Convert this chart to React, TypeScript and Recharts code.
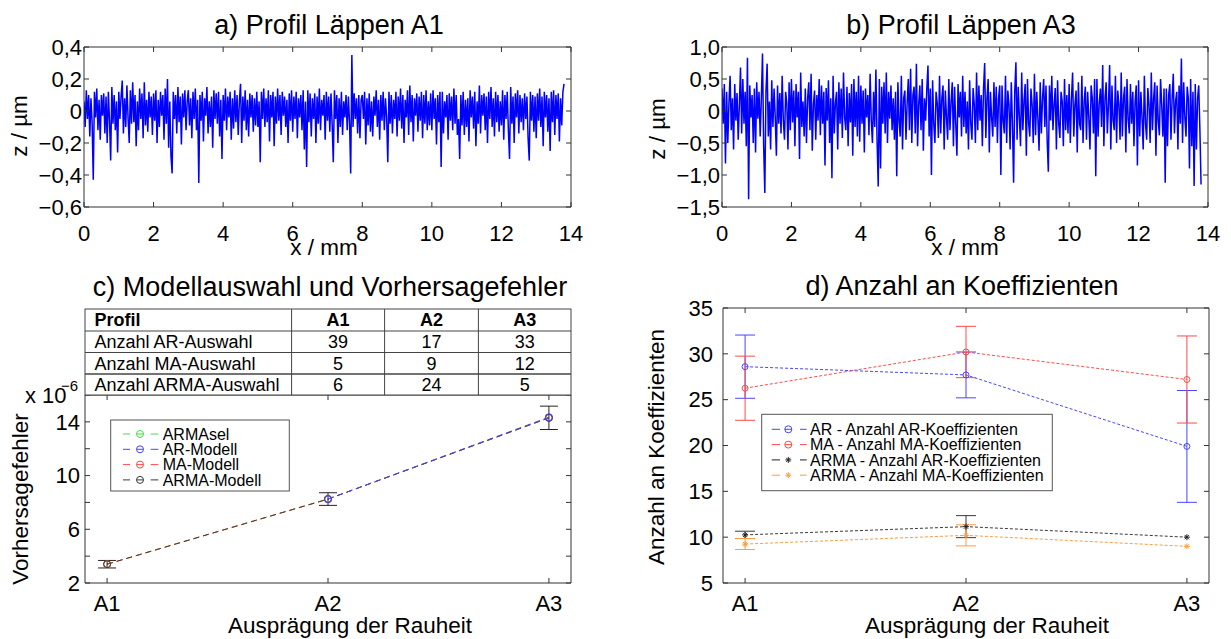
import { LineChart, Line, XAxis, YAxis, ErrorBar } from 'recharts'

const FONT = '"Liberation Sans", Arial, Helvetica, sans-serif'
const AXIS = '#333333'

// surface profiles, 30 samples per mm (one row per mm)
const samplesPerMm = 30
const profileA1 = [
  0.06, -0.1, 0.13, -0.05, 0.1, -0.16, 0.08, -0.07, -0.43, 0.12, -0.04, 0.14, -0.12, 0.07, -0.18, 0.1, -0.03, 0.11, -0.14, 0.09, -0.2, 0.12, -0.06, -0.31, 0.15, -0.08, 0.1, -0.12, 0.06, -0.26,
  0.12, -0.05, 0.09, 0.19, -0.14, 0.08, -0.1, 0.16, -0.04, -0.2, 0.13, -0.08, 0.18, -0.07, 0.1, -0.22, 0.06, -0.12, 0.14, -0.05, 0.11, -0.17, 0.18, -0.09, 0.07, -0.13, 0.12, -0.04, 0.09, -0.15,
  0.11, -0.06, 0.13, -0.2, 0.07, -0.1, 0.12, -0.03, 0.1, -0.18, 0.14, -0.08, 0.2, -0.23, 0.06, -0.28, -0.39, 0.12, -0.05, 0.1, -0.14, 0.15, -0.07, 0.09, -0.21, 0.11, -0.04, 0.13, -0.12, 0.06,
  0.13, -0.09, 0.08, -0.17, 0.12, -0.05, 0.14, -0.12, 0.07, -0.45, 0.1, -0.06, 0.12, -0.19, 0.08, -0.03, 0.15, -0.14, 0.06, -0.1, 0.09, -0.23, 0.13, -0.05, 0.11, -0.08, 0.12, -0.16, 0.07, -0.3,
  0.1, -0.06, 0.14, -0.12, 0.09, -0.04, 0.12, -0.18, 0.08, -0.11, 0.13, -0.07, 0.1, -0.15, 0.06, 0.17, -0.2, 0.09, -0.06, 0.13, -0.12, 0.07, -0.16, 0.11, -0.04, 0.1, -0.13, 0.08, -0.09, 0.12,
  -0.1, 0.06, -0.32, 0.12, -0.05, 0.14, -0.1, 0.08, -0.07, 0.13, -0.19, 0.1, -0.04, 0.12, -0.22, 0.09, -0.08, 0.14, -0.06, 0.1, -0.15, 0.12, -0.03, 0.09, -0.1, 0.07, -0.2, 0.11, -0.06, 0.13,
  -0.13, 0.09, -0.05, 0.12, -0.17, 0.08, -0.04, 0.1, -0.12, 0.13, -0.24, 0.06, -0.35, 0.13, -0.07, 0.11, -0.16, 0.08, -0.05, 0.11, -0.2, 0.09, -0.08, 0.14, -0.12, 0.07, -0.03, 0.1, -0.18, 0.12,
  -0.06, 0.09, -0.13, 0.11, -0.08, -0.32, 0.13, -0.05, 0.1, -0.2, 0.08, -0.1, 0.12, -0.15, 0.06, -0.04, 0.1, -0.12, 0.09, -0.07, -0.39, 0.35, -0.1, 0.11, -0.05, 0.08, -0.14, 0.1, -0.17, 0.07,
  0.1, -0.05, 0.12, -0.21, 0.08, -0.09, 0.11, -0.13, 0.06, -0.16, 0.09, -0.03, 0.13, -0.1, 0.07, -0.18, 0.1, -0.06, 0.12, -0.12, 0.08, -0.04, -0.32, 0.12, -0.08, 0.1, -0.14, 0.07, -0.05, 0.12,
  -0.16, 0.09, -0.06, 0.14, -0.11, 0.1, -0.2, 0.07, -0.04, 0.13, -0.15, 0.16, -0.07, 0.1, -0.19, 0.08, -0.03, 0.11, -0.13, 0.09, -0.06, 0.12, -0.17, 0.1, -0.08, 0.13, -0.12, 0.06, -0.09, 0.11,
  -0.12, 0.13, -0.05, 0.08, -0.21, 0.1, -0.07, 0.12, -0.35, 0.12, -0.14, 0.06, -0.04, 0.1, -0.18, 0.11, -0.06, 0.09, -0.12, 0.14, -0.08, 0.1, -0.15, -0.05, -0.3, 0.1, -0.09, 0.12, -0.15, 0.07,
  -0.1, 0.08, -0.19, 0.13, -0.04, 0.09, -0.11, 0.12, -0.22, 0.06, -0.08, 0.16, -0.14, 0.1, -0.03, 0.11, -0.12, 0.09, -0.2, 0.12, -0.05, 0.15, -0.1, 0.08, -0.16, 0.12, -0.07, 0.1, -0.13, 0.06,
  -0.09, 0.13, -0.18, 0.1, -0.05, 0.12, -0.12, -0.3, 0.15, -0.08, 0.09, -0.2, 0.11, -0.04, 0.13, -0.14, 0.1, -0.07, 0.08, -0.12, 0.11, -0.05, 0.09, -0.17, -0.31, 0.12, -0.06, 0.1, -0.13, 0.09,
  -0.17, 0.11, -0.06, 0.14, -0.1, 0.09, -0.22, 0.12, -0.04, 0.1, -0.13, 0.08, -0.25, 0.12, -0.07, 0.13, -0.15, 0.1, -0.05, 0.11, -0.19, 0.08, -0.09, 0.12, 0.17,
]
const profileA3 = [
  0.35, -0.2, 0.42, -0.82, 0.3, -0.5, 0.12, 0.55, -0.3, 0.2, -0.6, 0.42, -0.15, 0.28, -0.45, 0.1, 0.68, -0.35, 0.5, -0.2, 0.3, -0.55, 0.83, -1.38, 0.4, -0.1, 0.25, -0.5, 0.35, -0.65,
  0.45, -0.12, 0.3, -0.4, 0.2, 0.9, -0.55, -1.28, 0.3, 0.74, -0.4, 0.15, -0.6, 0.48, -0.25, 0.35, -0.1, -0.7, 0.4, -0.2, 0.28, -0.35, 0.55, -0.15, -0.45, 0.3, 0.12, -0.6, 0.45, -0.3,
  0.5, -0.18, 0.32, -0.55, 0.42, -0.1, 0.3, -0.75, 0.6, -0.25, 0.15, -0.4, 0.35, -0.5, 0.2, 0.45, -0.3, 0.58, -0.62, 0.1, 0.32, -0.45, 0.25, -0.15, 0.5, -0.38, 0.4, -0.2, 0.3, -0.85,
  0.36, -0.15, 0.48, -0.5, 0.2, -1.05, 0.55, -0.35, 0.12, 0.3, -0.6, 0.45, -0.2, 0.35, -0.42, 0.6, -0.1, -0.3, 0.38, -0.55, 0.28, -0.18, 0.42, -0.7, 0.5, -0.25, 0.3, -0.4, 0.55, -0.48,
  0.4, -0.2, 0.32, -0.65, 0.35, -0.1, 0.25, -0.38, 0.58, -0.15, -0.5, 0.3, -0.25, 0.65, -0.45, -1.18, 0.5, -0.9, 0.38, -0.2, 0.45, -0.35, 0.6, -0.5, 0.3, -0.12, 0.4, -0.3, 0.2, -0.45,
  0.3, -1.02, 0.45, -0.15, -0.4, 0.55, -0.6, 0.2, 0.32, -0.45, 0.12, 0.5, -0.3, 0.66, -0.5, 0.25, 0.38, -0.35, 0.74, -0.55, 0.1, 0.4, -0.3, 0.5, -0.62, 0.2, -0.15, 0.35, 0.71, -0.4,
  0.35, -1.0, 0.48, -0.2, -0.5, 0.3, 0.12, -0.42, 0.55, -0.35, 0.2, 0.4, -0.6, 0.32, -0.1, -0.45, 0.5, -0.3, 0.15, 0.45, -0.55, 0.38, -0.2, -0.7, 0.42, -0.1, 0.3, -0.4, 0.55, -0.25,
  0.3, -0.35, 0.15, -0.6, 0.48, -0.2, -0.45, 0.36, 0.1, -0.5, 0.6, -0.3, 0.4, -0.15, 0.25, -0.55, 0.35, 0.75, -0.42, 0.2, 0.5, -0.65, 0.3, -0.1, -0.4, 0.45, -0.25, 0.38, -0.5, 0.2,
  0.4, -1.0, 0.4, -0.15, -0.35, 0.55, -0.5, 0.32, 0.1, -0.6, 0.45, -0.2, -1.12, 0.3, 0.76, -0.45, 0.38, -0.1, -0.55, 0.6, -0.3, 0.15, 0.42, -0.7, 0.5, -0.2, -0.4, 0.35, 0.1, -0.5,
  0.58, -0.38, 0.3, -0.12, -0.62, 0.45, -0.35, 0.2, 0.5, -0.25, 0.4, -0.45, -0.95, 0.4, -0.15, 0.55, -0.3, 0.1, 0.36, -0.6, 0.48, -0.2, -0.42, 0.3, 0.15, -0.55, 0.5, -0.3, 0.25, -0.35,
  0.42, -0.5, 0.2, 0.6, -0.4, 0.1, 0.32, -0.65, 0.45, -0.2, -0.3, 0.55, -0.5, 0.15, 0.38, -0.45, 0.3, -0.1, -0.6, 0.4, 0.2, -0.35, 0.5, -1.02, 0.5, -0.4, 0.12, 0.35, -0.25, 0.72,
  -0.55, 0.2, 0.45, -0.35, 0.1, 0.72, -0.6, 0.4, -0.15, -0.3, 0.55, -0.5, 0.32, 0.1, -0.45, 0.6, -0.4, 0.2, 0.38, -0.65, 0.5, -0.12, -0.35, 0.42, -0.2, 0.3, -0.55, 0.15, 0.4, -0.85,
  0.48, -0.4, 0.3, -0.1, -0.6, 0.55, -0.2, -0.45, 0.36, 0.1, -0.5, 0.6, -0.3, 0.2, 0.45, -0.7, 0.4, -0.15, -0.38, 0.5, 0.1, -0.4, 0.35, -1.12, 0.35, -0.55, 0.25, 0.42, -0.45, 0.2,
  0.58, -0.35, 0.15, 0.3, -0.6, 0.4, -0.2, 0.82, -0.5, 0.45, -0.1, -0.4, 0.38, 0.2, -0.9, 0.5, -0.55, 0.3, -1.17, 0.42, -0.6, 0.2, 0.4, -0.3, -1.15,
]

const mmTicks = [0, 2, 4, 6, 8, 10, 12, 14]
const zTicksA1 = [-0.6, -0.4, -0.2, 0, 0.2, 0.4]
const zTicksA3 = [-1.5, -1, -0.5, 0, 0.5, 1]

const categories = ['A1', 'A2', 'A3']
const categoryX = [1, 2, 3]

// table of panel c
const tableHeader = ['Profil', 'A1', 'A2', 'A3']
const tableLabels = ['Anzahl AR-Auswahl', 'Anzahl MA-Auswahl', 'Anzahl ARMA-Auswahl']
const countAR = [39, 17, 33]
const countMA = [5, 9, 12]
const countARMA = [6, 24, 5]

// panel c: prediction error, x 1e-6
const errArmasel = [3.4, 8.25, 14.3]
const errAR: (number | null)[] = [null, 8.25, 14.35]
const errMA = [3.4, 8.25, 14.3]
const errARMA = [3.4, 8.25, 14.3]
const errARMAStd = [0.28, 0.47, 0.87]
const errTicks = [2, 4, 6, 8, 10, 12, 14, 16]
const errTickLabels = [2, 6, 10, 14]

// panel d: number of coefficients
const coefAR = [28.6, 27.7, 19.9]
const coefARStd = [3.45, 2.5, 6.1]
const coefMA = [26.25, 30.2, 27.2]
const coefMAStd = [3.5, 2.8, 4.75]
const coefArmaAR = [10.25, 11.15, 10.0]
const coefArmaARStd = [0.4, 1.2, 0]
const coefArmaMA = [9.25, 10.2, 9.0]
const coefArmaMAStd = [0.6, 1.15, 0]
const coefTicks = [5, 10, 15, 20, 25, 30, 35]

const C_GREEN = '#44dd44'
const C_BLUE = '#4646ff'
const C_RED = '#ff4a4a'
const C_DARK = '#3a3a3a'
const C_ORANGE = '#ff9c3c'

const legendC = [
  { label: 'ARMAsel', color: C_GREEN },
  { label: 'AR-Modell', color: C_BLUE },
  { label: 'MA-Modell', color: C_RED },
  { label: 'ARMA-Modell', color: C_DARK },
]
const legendD = [
  { label: 'AR - Anzahl AR-Koeffizienten', color: C_BLUE, star: false },
  { label: 'MA - Anzahl MA-Koeffizienten', color: C_RED, star: false },
  { label: 'ARMA - Anzahl AR-Koeffizienten', color: '#222222', star: true },
  { label: 'ARMA - Anzahl MA-Koeffizienten', color: C_ORANGE, star: true },
]

const toProfile = (vals: number[]) => vals.map((z, i) => ({ x: i / samplesPerMm, z }))
const dataA1 = toProfile(profileA1)
const dataA3 = toProfile(profileA3)
const dataC = categoryX.map((x, i) => ({
  x,
  armasel: errArmasel[i],
  ar: errAR[i],
  ma: errMA[i],
  arma: errARMA[i],
  armaStd: errARMAStd[i],
}))
const dataD = categoryX.map((x, i) => ({
  x,
  ar: coefAR[i],
  arStd: coefARStd[i],
  ma: coefMA[i],
  maStd: coefMAStd[i],
  armaAr: coefArmaAR[i],
  armaArStd: coefArmaARStd[i],
  armaMa: coefArmaMA[i],
  armaMaStd: coefArmaMAStd[i],
}))

const deNum = (v: number) =>
  v === 0 ? '0' : (v < 0 ? '\u2212' : '') + Math.abs(v).toFixed(1).replace('.', ',')
const catName = (v: number) => categories[Math.round(v) - 1] ?? ''
const blank = () => ''

const tickFont = { fill: '#000', fontSize: 22, fontFamily: FONT }

// MATLAB-like box: labelled bottom/left axes, bare top/right axes, ticks pointing inward
function boxAxes(
  xDomain: [number, number],
  xTicks: number[],
  xFmt: (v: number) => string,
  xGap: number,
  yDomain: [number, number],
  yTicks: number[],
  yFmt: (v: number) => string,
  yGap: number,
) {
  return [
    <XAxis key="xb" type="number" dataKey="x" domain={xDomain} ticks={xTicks} tickFormatter={xFmt}
      interval={0} allowDataOverflow height={30} tickSize={-5} tickMargin={xGap} stroke={AXIS} tick={tickFont} />,
    <XAxis key="xt" xAxisId="top" orientation="top" type="number" dataKey="x" domain={xDomain} ticks={xTicks}
      tickFormatter={blank} interval={0} allowDataOverflow height={20} tickSize={-5} stroke={AXIS} />,
    <YAxis key="yl" type="number" domain={yDomain} ticks={yTicks} tickFormatter={yFmt}
      interval={0} allowDataOverflow width={60} tickSize={-5} tickMargin={yGap} stroke={AXIS} tick={tickFont} />,
    <YAxis key="yr" yAxisId="right" orientation="right" type="number" domain={yDomain} ticks={yTicks}
      tickFormatter={blank} interval={0} allowDataOverflow width={20} tickSize={-5} stroke={AXIS} />,
  ]
}

function Star({ cx, cy, color, s = 3.5 }: { cx: number; cy: number; color: string; s?: number }) {
  const d = s * 0.7
  return (
    <g stroke={color} strokeWidth={1}>
      <line x1={cx - s} y1={cy} x2={cx + s} y2={cy} />
      <line x1={cx} y1={cy - s} x2={cx} y2={cy + s} />
      <line x1={cx - d} y1={cy - d} x2={cx + d} y2={cy + d} />
      <line x1={cx - d} y1={cy + d} x2={cx + d} y2={cy - d} />
    </g>
  )
}

function circleDot(color: string, r = 3.5) {
  return (p: any) =>
    p.cx == null || p.cy == null ? (
      <g key={p.index} />
    ) : (
      <circle key={p.index} cx={p.cx} cy={p.cy} r={r} fill="none" stroke={color} strokeWidth={1} />
    )
}

function starDot(color: string) {
  return (p: any) =>
    p.cx == null || p.cy == null ? (
      <g key={p.index} />
    ) : (
      <g key={p.index}>
        <Star cx={p.cx} cy={p.cy} color={color} s={3} />
      </g>
    )
}

function Overlay() {
  const rowsY = [309, 331, 352.5, 374, 395]
  const colsX = [85, 291.6, 384.6, 478.4, 571]
  const counts = [countAR, countMA, countARMA]
  const colCenter = (j: number) => (colsX[j] + colsX[j + 1]) / 2
  return (
    <svg width={1231} height={639} style={{ position: 'absolute', left: 0, top: 0, pointerEvents: 'none' }}
      fontFamily={FONT} fill="#000">
      {/* titles */}
      <text x={329} y={34} fontSize={27} textAnchor="middle">a) Profil Läppen A1</text>
      <text x={961} y={34} fontSize={27} textAnchor="middle">b) Profil Läppen A3</text>
      <text x={330} y={296} fontSize={27} textAnchor="middle">c) Modellauswahl und Vorhersagefehler</text>
      <text x={962} y={295} fontSize={27} textAnchor="middle">d) Anzahl an Koeffizienten</text>

      {/* axis labels */}
      <text x={324} y={255} fontSize={22.5} textAnchor="middle">x / mm</text>
      <text x={965} y={255} fontSize={22.5} textAnchor="middle">x / mm</text>
      <text x={350} y={633} fontSize={22.5} textAnchor="middle">Ausprägung der Rauheit</text>
      <text x={987} y={633} fontSize={22.5} textAnchor="middle">Ausprägung der Rauheit</text>
      <text transform="translate(27,126) rotate(-90)" fontSize={22.5} textAnchor="middle">z / µm</text>
      <text transform="translate(665,129) rotate(-90)" fontSize={22.5} textAnchor="middle">z / µm</text>
      <text transform="translate(28,499) rotate(-90)" fontSize={22.5} textAnchor="middle">Vorhersagefehler</text>
      <text transform="translate(664,447) rotate(-90)" fontSize={22.5} textAnchor="middle">Anzahl an Koeffizienten</text>
      <text x={25} y={403} fontSize={22}>x 10</text>
      <text x={61} y={391} fontSize={15}>{'\u2212'}6</text>

      {/* table */}
      <rect x={85} y={309} width={486} height={86} fill="#fff" stroke="#444" strokeWidth={1} />
      {rowsY.slice(1, 4).map((y, i) => (
        <line key={`r${i}`} x1={85} x2={571} y1={y} y2={y} stroke="#444" strokeWidth={i === 2 ? 1.6 : 1} />
      ))}
      {colsX.slice(1, 4).map((x, i) => (
        <line key={`c${i}`} x1={x} x2={x} y1={309} y2={395} stroke="#444" strokeWidth={1} />
      ))}
      {tableHeader.map((h, j) => (
        <text key={`h${j}`} x={j === 0 ? 94.5 : colCenter(j)} y={326.4} fontSize={18} fontWeight="bold"
          textAnchor={j === 0 ? 'start' : 'middle'}>{h}</text>
      ))}
      {tableLabels.map((lab, i) => {
        const base = (rowsY[i + 1] + rowsY[i + 2]) / 2 + 6.4
        return (
          <g key={`t${i}`}>
            <text x={94.5} y={base} fontSize={18}>{lab}</text>
            {counts[i].map((v, j) => (
              <text key={j} x={colCenter(j + 1)} y={base} fontSize={18} textAnchor="middle">{v}</text>
            ))}
          </g>
        )
      })}

      {/* legend c */}
      <rect x={110.7} y={420} width={178.6} height={71} fill="#fff" stroke="#555" strokeWidth={1} />
      {legendC.map((e, i) => {
        const cy = 434 + i * 15.3
        return (
          <g key={e.label}>
            <line x1={123} x2={130} y1={cy} y2={cy} stroke={e.color} strokeWidth={1} />
            <circle cx={140} cy={cy} r={3.5} fill="none" stroke={e.color} strokeWidth={1} />
            <line x1={136.5} x2={143.5} y1={cy} y2={cy} stroke={e.color} strokeWidth={1} />
            <line x1={150.7} x2={158.3} y1={cy} y2={cy} stroke={e.color} strokeWidth={1} />
            <text x={162.7} y={cy + 5.7} fontSize={16}>{e.label}</text>
          </g>
        )
      })}

      {/* legend d */}
      <rect x={761.7} y={414.3} width={290.6} height={76.4} fill="#fff" stroke="#555" strokeWidth={1} />
      {legendD.map((e, i) => {
        const cy = 429.3 + i * 15.3
        return (
          <g key={e.label}>
            <line x1={771.7} x2={780} y1={cy} y2={cy} stroke={e.color} strokeWidth={1} />
            {e.star ? (
              <Star cx={788.3} cy={cy} color={e.color} s={3} />
            ) : (
              <g>
                <circle cx={788.3} cy={cy} r={3.5} fill="none" stroke={e.color} strokeWidth={1} />
                <line x1={784.8} x2={791.8} y1={cy} y2={cy} stroke={e.color} strokeWidth={1} />
              </g>
            )}
            <line x1={800} x2={806.7} y1={cy} y2={cy} stroke={e.color} strokeWidth={1} />
            <text x={810} y={cy + 5.7} fontSize={16}>{e.label}</text>
          </g>
        )
      })}
    </svg>
  )
}

export default function App() {
  return (
    <div style={{ position: 'absolute', left: 0, top: 0, width: 1231, height: 639, background: '#fff', fontFamily: FONT }}>
      <div style={{ position: 'absolute', left: 0, top: 0 }}>
        <LineChart width={600} height={270} data={dataA1} margin={{ top: 27, right: 9, bottom: 33, left: 24 }}>
          {boxAxes([0, 14], mmTicks, (v) => String(v), 23, [-0.6, 0.4], zTicksA1, deNum, 7)}
          <Line type="linear" dataKey="z" stroke="#0000ff" strokeWidth={1.5} dot={false} isAnimationActive={false} />
        </LineChart>
      </div>
      <div style={{ position: 'absolute', left: 620, top: 0 }}>
        <LineChart width={611} height={270} data={dataA3} margin={{ top: 27, right: 3, bottom: 33, left: 42 }}>
          {boxAxes([0, 14], mmTicks, (v) => String(v), 23, [-1.5, 1], zTicksA3, deNum, 7)}
          <Line type="linear" dataKey="z" stroke="#0000ff" strokeWidth={1.5} dot={false} isAnimationActive={false} />
        </LineChart>
      </div>

      <div style={{ position: 'absolute', left: 0, top: 270 }}>
        <LineChart width={600} height={369} data={dataC} margin={{ top: 105, right: 9, bottom: 26, left: 25 }}>
          {boxAxes([0.9, 3.1], categoryX, catName, 17, [2, 16], errTicks,
            (v) => (errTickLabels.includes(v) ? String(v) : ''), 10)}
          <Line type="linear" dataKey="armasel" stroke={C_GREEN} strokeWidth={1} strokeDasharray="6 4"
            dot={circleDot(C_GREEN)} isAnimationActive={false} />
          <Line type="linear" dataKey="ma" stroke={C_RED} strokeWidth={1} strokeDasharray="6 4"
            dot={circleDot(C_RED)} isAnimationActive={false} />
          <Line type="linear" dataKey="arma" stroke="#3a2a2a" strokeOpacity={0.8} strokeWidth={1} strokeDasharray="6 4"
            dot={circleDot('#4a3535')} isAnimationActive={false}>
            <ErrorBar dataKey="armaStd" direction="y" width={9} stroke="#2a2020" strokeWidth={1} isAnimationActive={false} />
          </Line>
          <Line type="linear" dataKey="ar" stroke={C_BLUE} strokeWidth={1} strokeDasharray="6 4"
            dot={circleDot(C_BLUE)} isAnimationActive={false} />
        </LineChart>
      </div>

      <div style={{ position: 'absolute', left: 620, top: 270 }}>
        <LineChart width={611} height={369} data={dataD} margin={{ top: 18, right: 2, bottom: 26, left: 43 }}>
          {boxAxes([0.9, 3.1], categoryX, catName, 17, [5, 35], coefTicks, (v) => String(v), 15)}
          <Line type="linear" dataKey="ar" stroke={C_BLUE} strokeWidth={1} strokeDasharray="3 2"
            dot={circleDot(C_BLUE, 3)} isAnimationActive={false}>
            <ErrorBar dataKey="arStd" direction="y" width={10} stroke={C_BLUE} strokeWidth={1} isAnimationActive={false} />
          </Line>
          <Line type="linear" dataKey="ma" stroke={C_RED} strokeWidth={1} strokeDasharray="3 2"
            dot={circleDot(C_RED, 3)} isAnimationActive={false}>
            <ErrorBar dataKey="maStd" direction="y" width={10} stroke={C_RED} strokeWidth={1} isAnimationActive={false} />
          </Line>
          <Line type="linear" dataKey="armaAr" stroke={C_DARK} strokeWidth={1} strokeDasharray="3 2"
            dot={starDot('#222')} isAnimationActive={false}>
            <ErrorBar dataKey="armaArStd" direction="y" width={10} stroke={C_DARK} strokeWidth={1} isAnimationActive={false} />
          </Line>
          <Line type="linear" dataKey="armaMa" stroke={C_ORANGE} strokeWidth={1} strokeDasharray="3 2"
            dot={starDot(C_ORANGE)} isAnimationActive={false}>
            <ErrorBar dataKey="armaMaStd" direction="y" width={10} stroke={C_ORANGE} strokeWidth={1} isAnimationActive={false} />
          </Line>
        </LineChart>
      </div>

      <Overlay />
    </div>
  )
}
